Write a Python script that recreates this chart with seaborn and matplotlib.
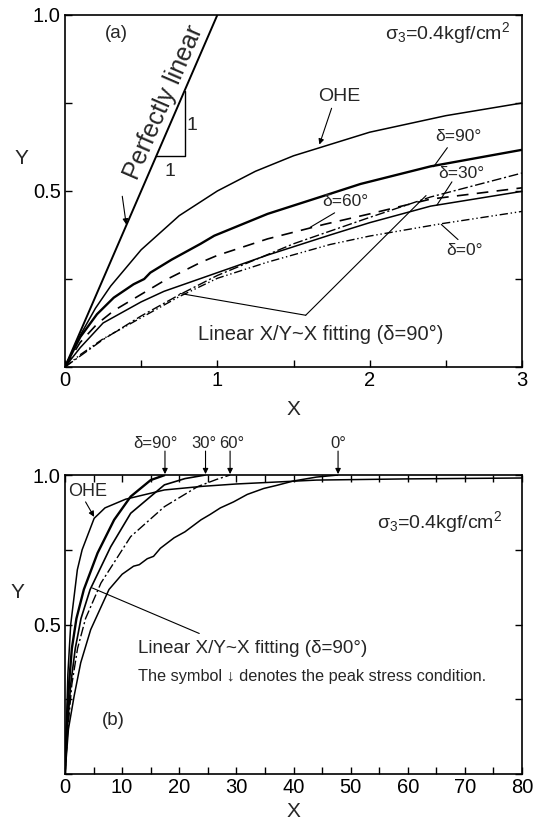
import matplotlib
matplotlib.use("Agg")
import numpy as np
import pandas as pd
import matplotlib.pyplot as plt
import seaborn as sns

# ---------------- Panel (a) data ----------------
a_lin_x = [0.0, 1.0]
a_lin_y = [0.0, 1.0]
a_ohe_x = [0, 0.1, 0.2, 0.3, 0.5, 0.75, 1.0, 1.25, 1.5, 2.0, 2.5, 3.0]
a_ohe_y = [0, 0.09, 0.167, 0.23, 0.333, 0.43, 0.5, 0.556, 0.6, 0.667, 0.714, 0.75]
a_d90_x = [0, 0.1, 0.21, 0.32, 0.45, 0.52, 0.56, 0.7, 0.89, 0.98, 1.33, 1.74, 1.94, 2.4, 3.0]
a_d90_y = [0, 0.085, 0.15, 0.197, 0.235, 0.25, 0.268, 0.305, 0.35, 0.373, 0.435, 0.492, 0.52, 0.57, 0.617]
a_d60_x = [0, 0.1, 0.21, 0.32, 0.65, 0.89, 1.0, 1.33, 1.7, 2.0, 2.4, 3.0]
a_d60_y = [0, 0.07, 0.122, 0.16, 0.245, 0.297, 0.317, 0.364, 0.405, 0.435, 0.477, 0.509]
a_d30_x = [0, 0.1, 0.25, 0.5, 0.65, 1.0, 1.33, 1.74, 2.0, 2.4, 3.0]
a_d30_y = [0, 0.055, 0.125, 0.185, 0.215, 0.268, 0.318, 0.375, 0.41, 0.457, 0.499]
a_d0_x = [0, 0.1, 0.25, 0.5, 0.75, 1.0, 1.33, 1.74, 2.0, 2.47, 3.0]
a_d0_y = [0, 0.035, 0.08, 0.14, 0.2, 0.252, 0.298, 0.348, 0.372, 0.407, 0.442]
a_fit_x = [0, 0.25, 0.5, 0.75, 1.0, 1.5, 2.0, 2.4, 3.0]
a_fit_y = [0, 0.078, 0.145, 0.205, 0.26, 0.35, 0.425, 0.483, 0.551]
a_xticks = [0, 0.5, 1, 1.5, 2, 2.5, 3]
a_xticklabels = ["0", "", "1", "", "2", "", "3"]
yticks = [0, 0.25, 0.5, 0.75, 1.0]
yticklabels = ["", "", "0.5", "", "1.0"]

# ---------------- Panel (b) data ----------------
b_ohe_x = [0, 0.5, 1, 2.16, 3, 5.1, 7, 10.6, 17.4, 24, 30, 44, 60, 80]
b_ohe_y = [0, 0.333, 0.5, 0.683, 0.75, 0.855, 0.89, 0.919, 0.95, 0.962, 0.97, 0.983, 0.987, 0.99]
b_d90_x = [0, 0.3, 0.7, 1.2, 2.0, 3.3, 5.7, 8.6, 11.5, 15.0, 17.5]
b_d90_y = [0, 0.15, 0.3, 0.42, 0.52, 0.617, 0.739, 0.85, 0.928, 0.983, 1.0]
b_d30_x = [0, 0.4, 1.0, 1.8, 2.8, 4.4, 8.0, 11.5, 17.4, 21.0, 24.6]
b_d30_y = [0, 0.15, 0.3, 0.42, 0.52, 0.617, 0.76, 0.872, 0.967, 0.988, 1.0]
b_d60_x = [0, 0.5, 1.2, 2.2, 3.6, 6.3, 11.5, 17.4, 23.2, 26.5, 28.9]
b_d60_y = [0, 0.15, 0.3, 0.42, 0.52, 0.639, 0.794, 0.894, 0.961, 0.985, 1.0]
b_d0_x = [0, 0.6, 1.6, 2.75, 4.5, 7.7, 10.0, 12.0, 13.0, 14.4, 15.5, 16.7, 19.1, 21.0, 23.8, 25.4, 27.2, 29.5, 31.9, 34.8, 37.0, 40.0, 44.0, 47.8]
b_d0_y = [0, 0.15, 0.261, 0.372, 0.483, 0.617, 0.668, 0.695, 0.70, 0.72, 0.728, 0.755, 0.79, 0.81, 0.85, 0.868, 0.89, 0.91, 0.935, 0.955, 0.965, 0.98, 0.993, 1.0]
b_peak_x = [17.5, 24.6, 28.9, 47.8]
b_peak_labels = ["δ=90°", "30°", "60°", "0°"]
b_peak_label_x = [15.8, 24.3, 29.2, 47.9]
b_xticks = list(range(0, 81, 5))
b_xticklabels = [str(v) if v % 10 == 0 else "" for v in b_xticks]

sns.set_theme(style="ticks")
plt.rcParams["font.family"] = ["Liberation Sans", "DejaVu Sans"]
plt.rcParams["mathtext.fontset"] = "custom"
plt.rcParams["mathtext.rm"] = "Liberation Sans"
plt.rcParams["mathtext.it"] = "Liberation Sans:italic"

fig = plt.figure(figsize=(5.44, 8.22), dpi=100)
ax1 = fig.add_axes([65 / 544, (822 - 367) / 822, 457 / 544, 352 / 822])
ax2 = fig.add_axes([65 / 544, (822 - 774) / 822, 457 / 544, 299 / 822])


def line(ax, x, y, lw=1.0, ls="-"):
    sns.lineplot(x=x, y=y, ax=ax, color="black", lw=lw, sort=False,
                 estimator=None, legend=False)
    ax.lines[-1].set_linestyle(ls)
    ax.lines[-1].set_solid_capstyle("butt")


def style_axes(ax, top_ticks):
    for s in ax.spines.values():
        s.set_linewidth(1.2)
        s.set_color("black")
    ax.tick_params(direction="in", length=5, width=1.0, labelsize=14.5, pad=3,
                   top=top_ticks, right=True, colors="black")
    ax.set_facecolor("white")


def leader(ax, start, tip, head=False, lw=0.8):
    props = dict(arrowstyle="-|>" if head else "-", lw=lw, color="black",
                 shrinkA=0, shrinkB=0, mutation_scale=8)
    ax.annotate("", xy=tip, xytext=start, arrowprops=props, annotation_clip=False)


# ---------------- Panel (a) ----------------
line(ax1, a_lin_x, a_lin_y, lw=1.4)
line(ax1, a_ohe_x, a_ohe_y, lw=1.1)
line(ax1, a_d90_x, a_d90_y, lw=1.7)
line(ax1, a_d60_x, a_d60_y, lw=1.2, ls=(0, (7, 5)))
line(ax1, a_d30_x, a_d30_y, lw=1.1)
line(ax1, a_d0_x, a_d0_y, lw=1.0, ls=(0, (6, 2, 1, 2, 1, 2)))
line(ax1, a_fit_x, a_fit_y, lw=1.0, ls=(0, (7, 2, 1.5, 2)))

ax1.set_xlim(0, 3)
ax1.set_ylim(0, 1.0)
ax1.set_xticks(a_xticks)
ax1.set_xticklabels(a_xticklabels)
ax1.set_yticks(yticks)
ax1.set_yticklabels(yticklabels)
style_axes(ax1, top_ticks=False)
ax1.set_xlabel("X", fontsize=15)
ax1.xaxis.set_label_coords(0.5, -0.095)
ax1.set_ylabel("Y", fontsize=15, rotation=0, ha="center", va="center")
ax1.yaxis.set_label_coords(-0.095, 0.593)

# slope triangle
ax1.plot([0.6, 0.785, 0.785], [0.6, 0.6, 0.785], color="black", lw=1.0)
ax1.text(0.69, 0.555, "1", fontsize=14, ha="center", va="center")
ax1.text(0.835, 0.685, "1", fontsize=14, ha="center", va="center")

# rotated text along perfectly linear
p0 = ax1.transData.transform((0, 0))
p1 = ax1.transData.transform((1, 1))
ang = np.degrees(np.arctan2(p1[1] - p0[1], p1[0] - p0[0]))
ax1.annotate("Perfectly linear", xy=(0.735, 0.735), xytext=(-9.5, 4.1),
             textcoords="offset points", rotation=ang, rotation_mode="anchor",
             ha="center", va="center", fontsize=18)
leader(ax1, (0.376, 0.485), (0.402, 0.405), head=True)

ax1.text(0.34, 0.948, "(a)", fontsize=13.5, ha="center", va="center")
ax1.text(2.92, 0.948, r"$\mathregular{\sigma_3}$=0.4kgf/cm$\mathregular{^2}$",
         fontsize=14, ha="right", va="center")

ax1.text(1.8, 0.768, "OHE", fontsize=14, ha="center", va="center")
leader(ax1, (1.75, 0.735), (1.67, 0.632), head=True)
ax1.text(2.58, 0.655, "δ=90°", fontsize=12.5, ha="center", va="center")
leader(ax1, (2.51, 0.623), (2.42, 0.569))
ax1.text(2.6, 0.55, "δ=30°", fontsize=12.5, ha="center", va="center")
leader(ax1, (2.54, 0.526), (2.44, 0.459))
ax1.text(1.84, 0.47, "δ=60°", fontsize=12.5, ha="center", va="center")
leader(ax1, (1.77, 0.438), (1.61, 0.397))
ax1.text(2.62, 0.33, "δ=0°", fontsize=12.5, ha="center", va="center")
leader(ax1, (2.58, 0.362), (2.47, 0.405))
ax1.text(1.68, 0.093, "Linear X/Y~X fitting (δ=90°)", fontsize=14.5,
         ha="center", va="center")
leader(ax1, (1.58, 0.147), (0.755, 0.209))
leader(ax1, (1.58, 0.147), (2.37, 0.487))

# ---------------- Panel (b) ----------------
line(ax2, b_ohe_x, b_ohe_y, lw=1.1)
line(ax2, b_d90_x, b_d90_y, lw=1.7)
line(ax2, b_d30_x, b_d30_y, lw=1.2)
line(ax2, b_d60_x, b_d60_y, lw=1.0, ls=(0, (7, 2, 1.5, 2)))
line(ax2, b_d0_x, b_d0_y, lw=1.1)

ax2.set_xlim(0, 80)
ax2.set_ylim(0, 1.0)
ax2.set_xticks(b_xticks)
ax2.set_xticklabels(b_xticklabels)
ax2.set_yticks(yticks)
ax2.set_yticklabels(yticklabels)
style_axes(ax2, top_ticks=True)
ax2.set_xlabel("X", fontsize=15)
ax2.xaxis.set_label_coords(0.5, -0.092)
ax2.set_ylabel("Y", fontsize=15, rotation=0, ha="center", va="center")
ax2.yaxis.set_label_coords(-0.105, 0.607)

for px, lab, lx in zip(b_peak_x, b_peak_labels, b_peak_label_x):
    leader(ax2, (px, 1.08), (px, 1.003), head=True)
    ax2.text(lx, 1.105, lab, fontsize=12, ha="center", va="center")

ax2.text(3.9, 0.944, "OHE", fontsize=13, ha="center", va="center")
leader(ax2, (3.6, 0.91), (5.1, 0.86), head=True)
ax2.text(76.6, 0.844, r"$\mathregular{\sigma_3}$=0.4kgf/cm$\mathregular{^2}$",
         fontsize=14, ha="right", va="center")
ax2.text(12.7, 0.42, "Linear X/Y~X fitting (δ=90°)", fontsize=13.6,
         ha="left", va="center")
leader(ax2, (23.5, 0.47), (4.8, 0.622))
ax2.text(12.7, 0.326, "The symbol ↓ denotes the peak stress condition.",
         fontsize=11.7, ha="left", va="center")
ax2.text(8.5, 0.178, "(b)", fontsize=13.5, ha="center", va="center")

fig.savefig("out.png", dpi=100, facecolor="white")
